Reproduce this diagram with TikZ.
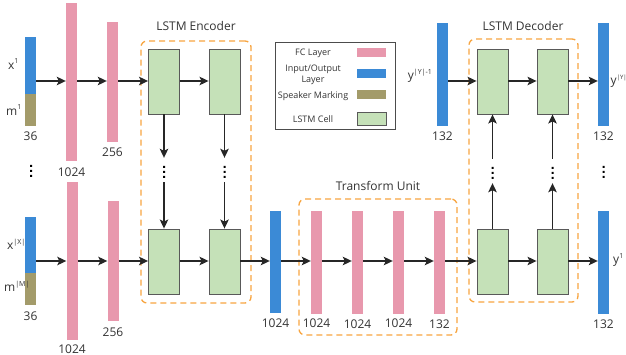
\documentclass[tikz,border=0pt]{standalone}
\usepackage{fontspec}
\setmainfont{Open Sans}
\usetikzlibrary{arrows.meta}
\definecolor{fcpink}{RGB}{232,152,173}
\definecolor{iob}{RGB}{59,138,214}
\definecolor{spkc}{RGB}{163,155,106}
\definecolor{cellg}{RGB}{197,225,184}
\definecolor{dorange}{RGB}{247,165,64}
\definecolor{txt}{RGB}{51,51,51}
\newcommand{\supx}[1]{\raisebox{0.42em}{\fontsize{7}{8}\selectfont #1}}
\newcommand{\supy}[1]{\raisebox{0.42em}{\fontsize{6}{7}\selectfont #1}}
\begin{document}
\begin{tikzpicture}[x=1pt,y=-1pt,
 bar/.style={rectangle, inner sep=0, minimum width=11pt, draw=none},
 fc/.style={bar, fill=fcpink},
 io/.style={bar, fill=iob},
 spk/.style={bar, fill=spkc},
 lstm/.style={rectangle, inner sep=0, minimum width=31pt, minimum height=65pt, fill=cellg, draw=black!65, line width=0.9pt},
 arr/.style={-{Stealth[length=9pt,width=8.5pt,inset=2pt]}, line width=1.2pt, draw=black!85},
 grp/.style={rectangle, draw=dorange, dash pattern=on 6pt off 4pt, line width=1.3pt, rounded corners=6pt, inner sep=0},
 lab/.style={text=txt, font=\fontsize{12}{14}\selectfont, inner sep=0},
 leg/.style={text=txt, font=\fontsize{9}{11}\selectfont, inner sep=0, align=center},
 vd/.style={inner sep=0, minimum height=24pt, minimum width=4pt,
   path picture={\fill[black] ([xshift=-1pt,yshift=-1pt]path picture bounding box.center) ++(0,-5) rectangle ++(2,2)
     ([xshift=-1pt,yshift=-1pt]path picture bounding box.center) rectangle ++(2,2)
     ([xshift=-1pt,yshift=-1pt]path picture bounding box.center) ++(0,5) rectangle ++(2,2);}}
]
\useasboundingbox (0,0) rectangle (626,355);
\coordinate (rt) at (0,81);
\coordinate (rb) at (0,261);

% group boxes
\node[grp, minimum width=110pt, minimum height=262pt] (genc) at (196,172) {};
\node[grp, minimum width=158pt, minimum height=136pt] (gtr) at (378,267) {};
\node[grp, minimum width=109pt, minimum height=263pt] (gdec) at (523.5,170.5) {};
\node[lab] (tenc) at (196,26) {LSTM Encoder};
\node[lab] (ttr) at (378,186) {Transform Unit};
\node[lab] (tdec) at (523,26) {LSTM Decoder};

% top row input
\node[io, minimum height=57pt] (in1x) at (30.5,65.5) {};
\node[spk, minimum height=32pt] (in1m) at (30.5,110) {};
\node[lab, anchor=west] (lx1) at (8,64) {x\supx{1}};
\node[lab, anchor=west] (lm1) at (6,110) {m\supx{1}};
\node[lab] (l36a) at ([yshift=-10pt]in1m.south) {36};
\node[fc, minimum height=158pt] (p1t) at (71.5,82) {};
\node[lab] (lp1t) at ([yshift=-11pt]p1t.south) {1024};
\node[fc, minimum height=120pt] (p2t) at (112.5,82) {};
\node[lab] (lp2t) at ([yshift=-10pt]p2t.south) {256};
\node[lstm] (e1t) at (164,81.5) {};
\node[lstm] (e2t) at (224.5,81.5) {};

% bottom row input
\node[io, minimum height=56pt] (in2x) at (30.5,245) {};
\node[spk, minimum height=32pt] (in2m) at (30.5,289) {};
\node[lab, anchor=west] (lx2) at (7,244) {x\supx{|X|}};
\node[lab, anchor=west] (lm2) at (4,286) {m\supx{|M|}};
\node[lab] (l36b) at ([yshift=-11pt]in2m.south) {36};
\node[fc, minimum height=158pt] (p1b) at (72,261) {};
\node[lab] (lp1b) at ([yshift=-9pt]p1b.south) {1024};
\node[fc, minimum height=120pt] (p2b) at (113,261) {};
\node[lab] (lp2b) at ([yshift=-11pt]p2b.south) {256};
\node[lstm] (e1b) at (164,261.5) {};
\node[lstm] (e2b) at (224.5,261.5) {};
\node[io, minimum height=102pt] (bm) at (275.5,262) {};
\node[lab] (lbm) at ([yshift=-10pt]bm.south) {1024};

% transform unit
\node[fc, minimum height=103pt] (t1) at (316.5,262.5) {};
\node[fc, minimum height=103pt] (t2) at (357.5,262.5) {};
\node[fc, minimum height=103pt] (t3) at (398.5,262.5) {};
\node[fc, minimum height=103pt] (t4) at (439.5,262.5) {};
\node[lab] (lt1) at ([yshift=-9pt]t1.south) {1024};
\node[lab] (lt2) at ([yshift=-10pt]t2.south) {1024};
\node[lab] (lt3) at ([yshift=-9pt]t3.south) {1024};
\node[lab] (lt4) at ([yshift=-10pt]t4.south) {132};

% decoder
\node[io, minimum height=103pt] (yin) at (442.5,74.5) {};
\node[lab, anchor=east] (lyin) at (432,76) {y\supx{|Y|-1}};
\node[lab] (lyinn) at ([yshift=-10pt]yin.south) {132};
\node[lstm] (d1t) at (492.5,81.5) {};
\node[lstm] (d2t) at (552.5,81.5) {};
\node[io, minimum height=103pt] (yout) at (603.5,74.5) {};
\node[lab, anchor=west] (lyout) at (610.5,81) {y\supy{|Y|}};
\node[lab] (lyoutn) at ([yshift=-10pt]yout.south) {132};
\node[lstm] (d1b) at (492.5,261.5) {};
\node[lstm] (d2b) at (552.5,261.5) {};
\node[io, minimum height=103pt] (outb) at (603.5,262.5) {};
\node[lab, anchor=west] (lout) at (613,260) {y\supx{1}};
\node[lab] (loutn) at ([yshift=-10pt]outb.south) {132};

% vertical dots
\node[vd] (vl) at (31,169) {};
\node[vd] (v1) at (164,170) {};
\node[vd] (v2) at (224.5,170) {};
\node[vd] (w1) at (492.5,171) {};
\node[vd] (w2) at (552.5,171) {};
\node[vd] (vr) at (603.5,170) {};

% top row arrows
\draw[arr] (in1x.east |- rt) -- (p1t.west |- rt);
\draw[arr] (p1t.east |- rt) -- (p2t.west |- rt);
\draw[arr] (p2t.east |- rt) -- (e1t.west |- rt);
\draw[arr] (e1t.east |- rt) -- (e2t.west |- rt);
\draw[arr] (yin.east |- rt) -- (d1t.west |- rt);
\draw[arr] (d1t.east |- rt) -- (d2t.west |- rt);
\draw[arr] (d2t.east |- rt) -- (yout.west |- rt);

% bottom row arrows
\draw[arr] (in2x.east |- rb) -- (p1b.west |- rb);
\draw[arr] (p1b.east |- rb) -- (p2b.west |- rb);
\draw[arr] (p2b.east |- rb) -- (e1b.west |- rb);
\draw[arr] (e1b.east |- rb) -- (e2b.west |- rb);
\draw[arr] (e2b.east |- rb) -- (bm.west |- rb);
\draw[arr] (bm.east |- rb) -- (t1.west |- rb);
\draw[arr] (t1.east |- rb) -- (t2.west |- rb);
\draw[arr] (t2.east |- rb) -- (t3.west |- rb);
\draw[arr] (t3.east |- rb) -- (t4.west |- rb);
\draw[arr] (t4.east |- rb) -- (d1b.west |- rb);
\draw[arr] (d1b.east |- rb) -- (d2b.west |- rb);
\draw[arr] (d2b.east |- rb) -- (outb.west |- rb);

% vertical arrows
\draw[arr] (e1t.south) -- (v1.north);
\draw[arr] (v1.south) -- (e1b.north);
\draw[arr] (e2t.south) -- (v2.north);
\draw[arr] (v2.south) -- (e2b.north);
\draw[arr] (d1b.north) -- (w1.south);
\draw[arr] (w1.north) -- (d1t.south);
\draw[arr] (d2b.north) -- (w2.south);
\draw[arr] (w2.north) -- (d2t.south);

% legend
\node[rectangle, draw=black!70, line width=0.8pt, minimum width=120pt, minimum height=87pt, inner sep=0] (legend) at (335,85.5) {};
\node[leg] (lg1) at (313,53) {FC Layer};
\node[leg] (lg2) at (313,75) {Input/Output\\Layer};
\node[leg] (lg3) at (313,96) {Speaker Marking};
\node[leg] (lg4) at (313,119) {LSTM Cell};
\node[fc, minimum width=29pt, minimum height=9pt] (sw1) at (371.5,52.5) {};
\node[io, minimum width=29pt, minimum height=9pt] (sw2) at (371.5,74) {};
\node[spk, minimum width=29pt, minimum height=9pt] (sw3) at (371.5,95) {};
\node[lstm, minimum width=29pt, minimum height=13pt] (sw4) at (371.5,118.5) {};
\end{tikzpicture}
\end{document}
